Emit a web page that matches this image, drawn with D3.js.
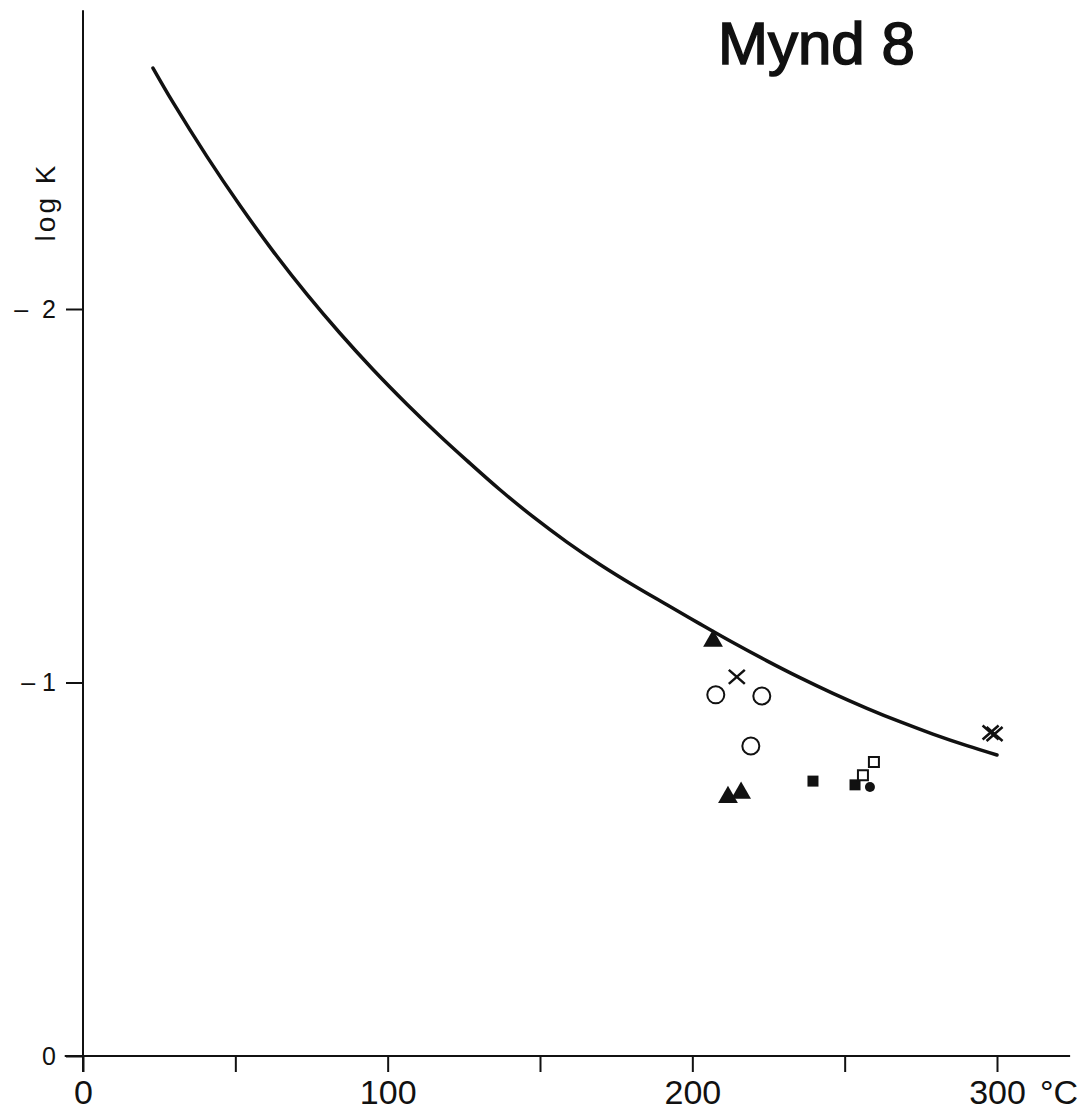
<!DOCTYPE html>
<html>
<head>
<meta charset="utf-8">
<script src="https://cdn.jsdelivr.net/npm/d3@7"></script>
<style>
  html, body { margin: 0; padding: 0; background: #fff; }
  svg { display: block; }
  text { font-family: 'Liberation Sans', sans-serif; fill: #111; }
</style>
</head>
<body>
<svg id="chart"></svg>
<script>
// temperature (°C) vs log K
const curveT = [22.97, 29.54, 40.7, 51.53, 62.36, 73.52, 84.35, 95.18, 106.33, 117.16, 126.03, 136.86, 147.69, 158.85, 169.67, 180.51, 191.66, 202.49, 213.32, 224.48, 235.31, 246.14, 257.3, 268.13, 278.96, 290.12, 300];
const curveLogK = [-2.645, -2.553, -2.408, -2.277, -2.155, -2.039, -1.935, -1.838, -1.745, -1.66, -1.594, -1.516, -1.444, -1.376, -1.316, -1.261, -1.208, -1.157, -1.107, -1.058, -1.013, -0.971, -0.931, -0.895, -0.862, -0.831, -0.806];

const triangleFilled = [[206.8, -1.111], [211.7, -0.693], [216.0, -0.704]];
const circleOpen = [[207.7, -0.967], [222.8, -0.964], [219.2, -0.830]];
const crosses = [[214.6, -1.015], [297.9, -0.866], [299.2, -0.862]];
const squareFilled = [[239.6, -0.736], [253.4, -0.726]];
const squareOpen = [[256.0, -0.752], [259.6, -0.787]];
const circleFilled = [[258.3, -0.720]];

const xTicks = [0, 50, 100, 150, 200, 250, 300];
const xTickLabels = ['0', '', '100', '', '200', '', '300'];
const yTicks = [0, -1, -2];
const yTickLabels = ['0', '\u2013\u00a01', '\u2013\u00a0\u00a02'];

const title = 'Mynd 8';
const yTitle = 'log K';
const xUnit = '\u00B0C';

const width = 1086, height = 1111;

const svg = d3.select('#chart')
    .attr('width', width)
    .attr('height', height);

const x = d3.scaleLinear().domain([0, 300]).range([83, 997]);
const y = d3.scaleLinear().domain([0, -2]).range([1056, 309]);

// axis lines, drawn a bit past the origin like the original
svg.append('line')
    .attr('x1', x(-6)).attr('x2', x(324))
    .attr('y1', y(0)).attr('y2', y(0))
    .attr('stroke', '#111').attr('stroke-width', 2);

svg.append('line')
    .attr('x1', x(0)).attr('x2', x(0))
    .attr('y1', y(0.043)).attr('y2', y(-2.8))
    .attr('stroke', '#111').attr('stroke-width', 2);

const xAxis = svg.append('g')
    .attr('transform', 'translate(0,' + y(0) + ')')
    .call(d3.axisBottom(x)
        .tickValues(xTicks)
        .tickSize(16)
        .tickPadding(8)
        .tickFormat(function (d, i) { return xTickLabels[i]; }));
xAxis.select('.domain').remove();
xAxis.selectAll('line').attr('stroke', '#111').attr('stroke-width', 2);
xAxis.selectAll('text')
    .attr('font-size', 34)
    .attr('font-family', "'Liberation Sans', sans-serif")
    .attr('fill', '#111');

svg.append('text')
    .attr('x', x(300) + 43)
    .attr('y', y(0) + 48)
    .attr('font-size', 34)
    .text(xUnit);

const yAxis = svg.append('g')
    .attr('transform', 'translate(' + x(0) + ',0)')
    .call(d3.axisLeft(y)
        .tickValues(yTicks)
        .tickSize(17)
        .tickPadding(10)
        .tickFormat(function (d, i) { return yTickLabels[i]; }));
yAxis.select('.domain').remove();
yAxis.selectAll('line').attr('stroke', '#111').attr('stroke-width', 2);
yAxis.selectAll('text')
    .attr('font-size', 25)
    .attr('font-family', "'Liberation Sans', sans-serif")
    .attr('fill', '#111');

svg.append('text')
    .attr('transform', 'translate(55,202) rotate(-90)')
    .attr('text-anchor', 'middle')
    .attr('font-size', 28)
    .attr('letter-spacing', 3)
    .text(yTitle);

svg.append('text')
    .attr('x', 718)
    .attr('y', 64)
    .attr('font-size', 60)
    .attr('stroke', '#111')
    .attr('stroke-width', 1.6)
    .text(title);

// fitted curve
const line = d3.line()
    .x(function (d) { return x(d[0]); })
    .y(function (d) { return y(d[1]); })
    .curve(d3.curveCatmullRom);

svg.append('path')
    .datum(d3.zip(curveT, curveLogK))
    .attr('d', line)
    .attr('fill', 'none')
    .attr('stroke', '#111')
    .attr('stroke-width', 3.5)
    .attr('stroke-linecap', 'round');

// measured points
svg.selectAll('.tri')
    .data(triangleFilled).enter().append('path')
    .attr('class', 'tri')
    .attr('transform', function (d) { return 'translate(' + x(d[0]) + ',' + y(d[1]) + ')'; })
    .attr('d', d3.symbol().type(d3.symbolTriangle).size(170))
    .attr('fill', '#111');

svg.selectAll('.circ')
    .data(circleOpen).enter().append('circle')
    .attr('class', 'circ')
    .attr('cx', function (d) { return x(d[0]); })
    .attr('cy', function (d) { return y(d[1]); })
    .attr('r', 8.5)
    .attr('fill', 'none')
    .attr('stroke', '#111')
    .attr('stroke-width', 2);

svg.selectAll('.cross')
    .data(crosses).enter().append('path')
    .attr('class', 'cross')
    .attr('transform', function (d) { return 'translate(' + x(d[0]) + ',' + y(d[1]) + ')'; })
    .attr('d', 'M-8,-7L8,7M-8,7L8,-7')
    .attr('fill', 'none')
    .attr('stroke', '#111')
    .attr('stroke-width', 2.5);

svg.selectAll('.sqf')
    .data(squareFilled).enter().append('path')
    .attr('class', 'sqf')
    .attr('transform', function (d) { return 'translate(' + x(d[0]) + ',' + y(d[1]) + ')'; })
    .attr('d', d3.symbol().type(d3.symbolSquare).size(121))
    .attr('fill', '#111');

svg.selectAll('.sqo')
    .data(squareOpen).enter().append('path')
    .attr('class', 'sqo')
    .attr('transform', function (d) { return 'translate(' + x(d[0]) + ',' + y(d[1]) + ')'; })
    .attr('d', d3.symbol().type(d3.symbolSquare).size(100))
    .attr('fill', '#fff')
    .attr('stroke', '#111')
    .attr('stroke-width', 2);

svg.selectAll('.cf')
    .data(circleFilled).enter().append('circle')
    .attr('class', 'cf')
    .attr('cx', function (d) { return x(d[0]); })
    .attr('cy', function (d) { return y(d[1]); })
    .attr('r', 5)
    .attr('fill', '#111');
</script>
</body>
</html>
